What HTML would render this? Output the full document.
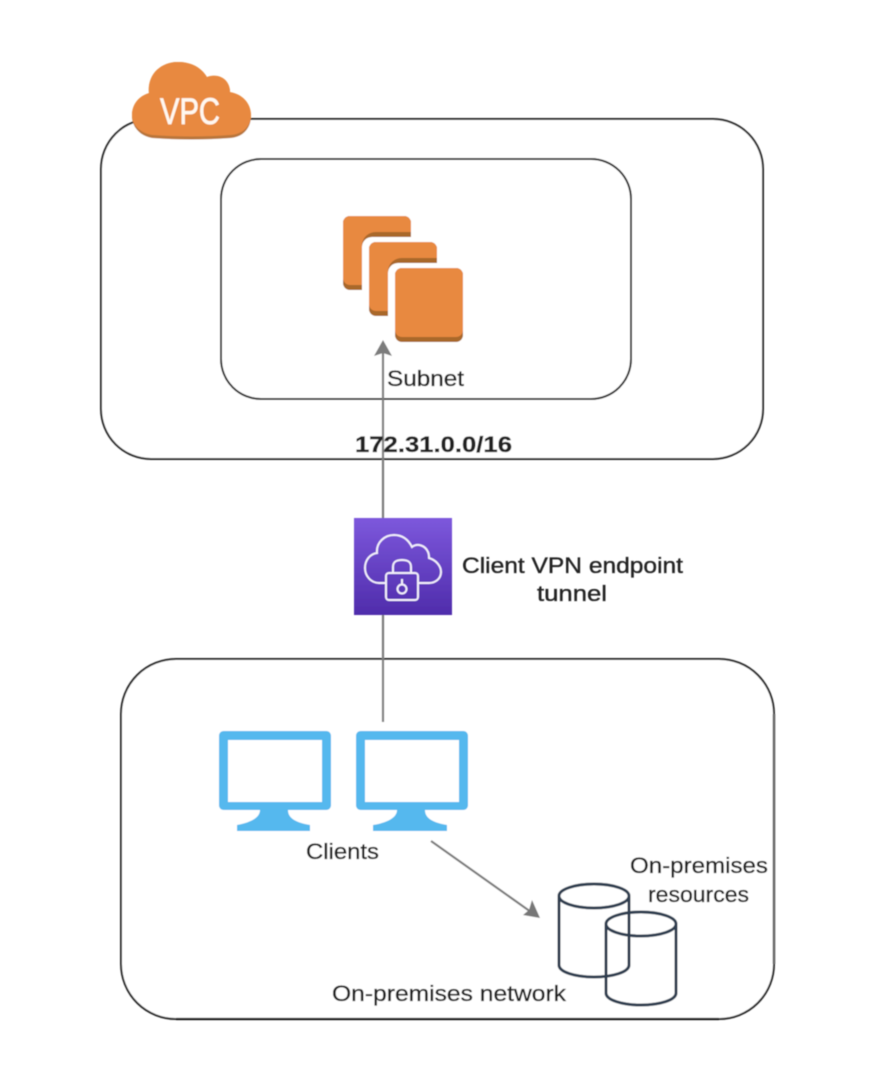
<!DOCTYPE html>
<html>
<head>
<meta charset="utf-8">
<style>
html,body{margin:0;padding:0;background:#fff;width:886px;height:1066px;overflow:hidden}
svg{display:block}
text{font-family:"Liberation Sans",sans-serif;font-size:22.5px;fill:#222;stroke:#222;stroke-width:.35px}
</style>
</head>
<body>
<svg width="886" height="1066" viewBox="0 0 886 1066" xmlns="http://www.w3.org/2000/svg">
<defs>
<linearGradient id="p" x1="0" y1="0" x2="0" y2="1"><stop offset="0" stop-color="#7d58dc"/><stop offset="1" stop-color="#4f2cab"/></linearGradient>
<filter id="b" x="-5%" y="-5%" width="110%" height="110%"><feGaussianBlur stdDeviation="0.55"/></filter>
</defs>
<g filter="url(#b)">
<!-- containers -->
<rect x="101" y="119" width="662" height="340" rx="50" fill="#fff" stroke="#2c2c2c" stroke-width="2"/>
<rect x="221" y="159" width="410" height="240" rx="40" fill="#fff" stroke="#2c2c2c" stroke-width="2"/>
<rect x="121" y="659" width="653" height="360" rx="55" fill="#fff" stroke="#2c2c2c" stroke-width="2"/>
<path d="M774 714V964" stroke="#666" stroke-width="2.6" fill="none"/>
<path d="M176 1019H719" stroke="#111" stroke-width="2.2" fill="none"/>

<!-- VPC cloud -->
<path d="M152 138C140 136 132 127 132 116C132 105 139 97 149 94C147 76 160 62 178 62C191 62 201 68 207 78C214 75 223 77 227 83C229 86 230 89 230 93C242 95 251 104 251 116C251 128 243 137 231 138C205 140 178 140 152 138Z" fill="#b9763a"/>
<path d="M152 135C140 133 132 125 132 115C132 104 139 96 149 93C147 75 160 62 178 62C191 62 201 67 207 77C214 74 223 76 227 82C229 85 230 88 230 92C242 94 251 103 251 115C251 126 243 134 231 135C205 137 178 137 152 135Z" fill="#e8893f"/>
<text x="160" y="124" textLength="60" lengthAdjust="spacingAndGlyphs" style="font-size:37.5px;fill:#fff8f0;stroke:#fff8f0;stroke-width:.7px">VPC</text>

<!-- instances -->
<rect x="343" y="216" width="68" height="74" rx="7" fill="#a9672c"/>
<rect x="343" y="216" width="68" height="69" rx="7" fill="#e8893f"/>
<path d="M411 232H376C368 232 362 238 362 246V260H380V240H411Z" fill="#a9672c"/>
<rect x="362" y="237" width="80" height="84" rx="10" fill="#fff"/>
<rect x="369" y="242" width="68" height="74" rx="7" fill="#a9672c"/>
<rect x="369" y="242" width="68" height="69" rx="7" fill="#e8893f"/>
<path d="M437 258H402C394 258 388 264 388 272V286H406V266H437Z" fill="#a9672c"/>
<rect x="388" y="263" width="80" height="84" rx="10" fill="#fff"/>
<rect x="395" y="268" width="68" height="74" rx="7" fill="#a9672c"/>
<rect x="395" y="268" width="68" height="69" rx="7" fill="#e8893f"/>

<!-- main arrow -->
<path d="M383 722V352" stroke="#7c7c7c" stroke-width="2.2" fill="none"/>
<path d="M383 340L392 356L383 353L374 356Z" fill="#7c7c7c"/>

<!-- labels top -->
<text x="387" y="386" textLength="77" lengthAdjust="spacingAndGlyphs">Subnet</text>
<text x="355" y="452" textLength="157" lengthAdjust="spacingAndGlyphs" style="font-weight:bold">172.31.0.0/16</text>

<!-- VPN -->
<rect x="354" y="518" width="98" height="97" fill="url(#p)"/>
<g fill="none" stroke="#f3effc" stroke-width="2">
<path d="M385 583H379C371 583 365 576 365 568C365 560 370 554 377 553C376 542 385 535 394 535C402 535 408 539 412 547C417 543 425 545 428 552C429 554 429 556 429 558C436 560 441 566 441 572C441 579 435 583 429 583H418"/>
<rect x="386" y="573" width="32" height="27" rx="3"/>
<path d="M393 573V567C393 562 396 560 402 560C408 560 411 562 411 567V573"/>
<circle cx="402" cy="589" r="4.5"/>
<path d="M402 584V579"/>
</g>
<text x="462" y="573" textLength="221" lengthAdjust="spacingAndGlyphs">Client VPN endpoint</text>
<text x="537" y="601" textLength="70" lengthAdjust="spacingAndGlyphs">tunnel</text>

<!-- monitors -->
<g fill="#55b8ee">
<path fill-rule="evenodd" d="M224 731H326C329 731 331 733 331 736V805C331 808 329 810 326 810H288C288 816 292 822 310 825V831H237V825C254 822 260 816 260 810H224C221 810 219 808 219 805V736C219 733 221 731 224 731ZM228 740V802H322V740Z"/>
<path fill-rule="evenodd" d="M361 731H463C466 731 468 733 468 736V805C468 808 466 810 463 810H425C425 816 429 822 447 825V831H373V825C391 822 397 816 397 810H361C358 810 356 808 356 805V736C356 733 358 731 361 731ZM365 740V802H459V740Z"/>
</g>
<text x="306" y="859" textLength="73" lengthAdjust="spacingAndGlyphs">Clients</text>

<!-- arrow to DB -->
<path d="M431 841L531 912" stroke="#7c7c7c" stroke-width="2.2" fill="none"/>
<path d="M540 918L523 915L529 910L532 900Z" fill="#777"/>

<!-- databases -->
<g fill="none" stroke="#2f3d50" stroke-width="3">
<ellipse cx="594" cy="896" rx="35" ry="12"/>
<path d="M559 896V965C559 972 575 977 594 977C613 977 629 972 629 965V896"/>
<ellipse cx="641" cy="924" rx="35" ry="12"/>
<path d="M606 924V993C606 1000 622 1005 641 1005C660 1005 676 1000 676 993V924"/>
</g>
<text x="630" y="873" textLength="138" lengthAdjust="spacingAndGlyphs">On-premises</text>
<text x="648" y="902" textLength="101" lengthAdjust="spacingAndGlyphs">resources</text>
<text x="332" y="1001" textLength="234" lengthAdjust="spacingAndGlyphs">On-premises network</text>
</g>
</svg>
</body>
</html>
